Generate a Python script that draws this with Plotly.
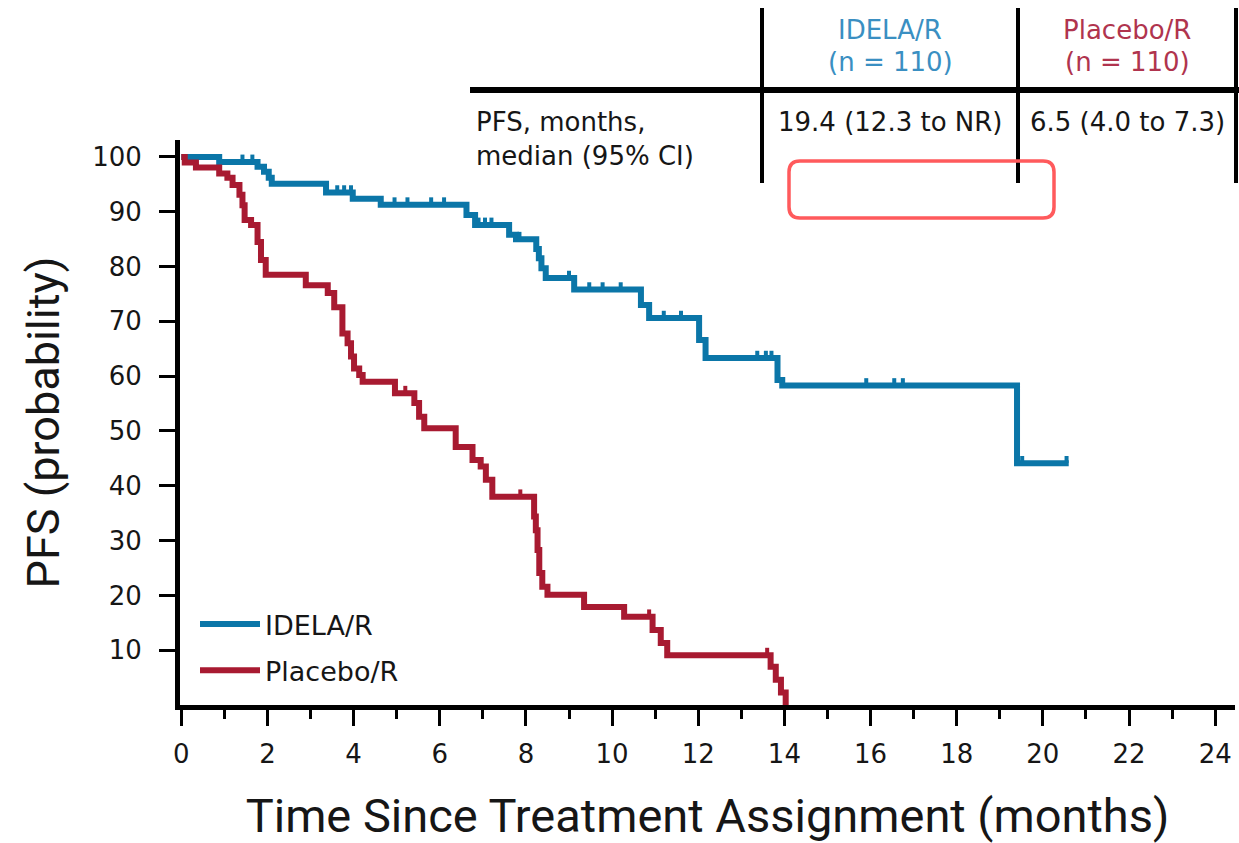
import plotly.graph_objects as go

# Kaplan-Meier step points (months, PFS %)
idela_t = [0, 0.88, 1.77, 1.92, 2.03, 2.10, 3.36, 3.98, 4.63, 6.62, 6.82, 7.61,
           7.77, 8.24, 8.30, 8.36, 8.46, 9.12, 10.67, 10.86, 12.02, 12.17, 13.84,
           13.95, 19.40, 20.60]
idela_s = [100, 99.1, 98.2, 97.3, 96.2, 95.1, 93.5, 92.4, 91.3, 89.4, 87.6, 85.8,
           85.0, 83.2, 81.5, 79.7, 77.9, 75.8, 73.0, 70.6, 66.6, 63.3, 59.3,
           58.3, 44.1, 44.1]
idela_cens = [1.42, 1.65, 3.62, 3.78, 3.94, 4.95, 5.25, 5.80, 6.10, 6.90, 7.05,
              7.20, 7.85, 9.00, 9.47, 9.78, 10.20, 11.20, 11.60, 13.37, 13.57,
              13.70, 15.90, 16.55, 16.75, 19.52, 20.55]

placebo_t = [0, 0.08, 0.34, 0.88, 1.07, 1.19, 1.35, 1.42, 1.47, 1.62, 1.77, 1.85,
             1.96, 2.89, 3.40, 3.55, 3.74, 3.86, 3.94, 4.01, 4.13, 4.21, 4.96,
             5.41, 5.52, 5.64, 6.37, 6.76, 6.95, 7.07, 7.22, 8.19, 8.23, 8.27,
             8.31, 8.38, 8.50, 9.35, 10.28, 10.94, 11.13, 11.28, 13.68, 13.80,
             13.92, 14.03]
placebo_s = [100, 99.0, 98.1, 97.0, 96.2, 94.9, 93.1, 91.2, 88.5, 87.6, 84.5, 81.2,
             78.5, 76.6, 75.2, 72.6, 67.8, 66.0, 63.6, 61.4, 60.2, 59.0, 56.9,
             55.1, 52.6, 50.5, 47.1, 44.7, 43.5, 41.1, 38.0, 34.4, 31.9, 28.3,
             24.1, 21.6, 20.1, 17.9, 16.1, 13.7, 11.3, 9.1, 7.0, 4.6,
             2.3, 0]
placebo_cens = [5.20, 7.87, 10.86, 13.60]

x_ticks = list(range(0, 25, 2))
y_ticks = list(range(10, 101, 10))

arms = ["IDELA/R", "Placebo/R"]
n_per_arm = [110, 110]
median_ci = ["19.4 (12.3 to NR)", "6.5 (4.0 to 7.3)"]

BLUE = "#0B76A8"
RED = "#A81A31"
HEAD_BLUE = "#3A8FC2"
HEAD_RED = "#B0344E"
TITLE_FONT = "Roboto, Arial, sans-serif"
BODY_FONT = "DejaVu Sans, Verdana, sans-serif"
INK = "#161616"

W, H = 1239, 843
ML, MR, MT, MB = 180, 4, 140, 138
PW, PH = W - ML - MR, H - MT - MB


def px(x):
    return (x - ML) / PW


def py(y):
    return (H - MB - y) / PH


def step_value(ts, ss, t):
    v = ss[0]
    for ti, si in zip(ts, ss):
        if ti <= t:
            v = si
    return v


fig = go.Figure()

for name, ts, ss, cens, col in [
    (arms[0], idela_t, idela_s, idela_cens, BLUE),
    (arms[1], placebo_t, placebo_s, placebo_cens, RED),
]:
    fig.add_trace(go.Scatter(
        x=ts, y=ss, mode="lines", name=name, legendgroup=name,
        line=dict(color=col, width=6, shape="hv"),
        hoverinfo="skip",
    ))
    # censoring ticks sit on top of the curve
    fig.add_trace(go.Scatter(
        x=cens, y=[step_value(ts, ss, c) + 0.7 for c in cens],
        mode="markers", legendgroup=name, showlegend=False,
        marker=dict(symbol="line-ns", size=5, line=dict(color=col, width=4)),
        hoverinfo="skip",
    ))

# table above the plot
shapes = []
for xv in (762, 1018, 1236):
    shapes.append(dict(type="line", xref="paper", yref="paper",
                       x0=px(xv), x1=px(xv), y0=py(8), y1=py(183),
                       line=dict(color="black", width=4)))
shapes.append(dict(type="line", xref="paper", yref="paper",
                   x0=px(470), x1=px(1239), y0=py(90), y1=py(90),
                   line=dict(color="black", width=6)))

# rounded highlight box
bx0, bx1, by0, by1, r = 789, 1054, 161, 218, 11
path = (f"M {px(bx0 + r)},{py(by0)} L {px(bx1 - r)},{py(by0)} "
        f"Q {px(bx1)},{py(by0)} {px(bx1)},{py(by0 + r)} "
        f"L {px(bx1)},{py(by1 - r)} Q {px(bx1)},{py(by1)} {px(bx1 - r)},{py(by1)} "
        f"L {px(bx0 + r)},{py(by1)} Q {px(bx0)},{py(by1)} {px(bx0)},{py(by1 - r)} "
        f"L {px(bx0)},{py(by0 + r)} Q {px(bx0)},{py(by0)} {px(bx0 + r)},{py(by0)} Z")
shapes.append(dict(type="path", xref="paper", yref="paper", path=path,
                   line=dict(color="#FF5A5C", width=3.5)))

ann = []


def text(x, y, s, color=INK, size=26, anchor="center"):
    ann.append(dict(x=px(x), y=py(y), xref="paper", yref="paper", text=s,
                    showarrow=False, xanchor=anchor, yanchor="middle",
                    font=dict(family=BODY_FONT, size=size, color=color)))


col_x = [890, 1127]
for cx, arm, n, med, hc in zip(col_x, arms, n_per_arm, median_ci,
                                [HEAD_BLUE, HEAD_RED]):
    text(cx, 30, arm, hc)
    text(cx, 62, f"(n = {n})", hc)
    text(cx, 122, med)
text(474, 122, "PFS, months,", anchor="left")
text(474, 156, "median (95% CI)", anchor="left")

fig.update_layout(
    width=W, height=H,
    margin=dict(l=ML, r=MR, t=MT, b=MB),
    paper_bgcolor="white", plot_bgcolor="white",
    font=dict(family=BODY_FONT, color=INK),
    shapes=shapes, annotations=ann,
    showlegend=True,
    legend=dict(x=px(195), y=py(600), xanchor="left", yanchor="top",
                font=dict(family=BODY_FONT, size=27, color=INK),
                bgcolor="rgba(0,0,0,0)", tracegroupgap=8, itemwidth=60),
    xaxis=dict(
        range=[-0.03, 24.46], tickvals=x_ticks, ticks="outside",
        ticklen=16, tickwidth=3, tickcolor="black",
        showline=True, linewidth=5, linecolor="black",
        showgrid=False, zeroline=False, ticklabelstandoff=6,
        tickfont=dict(family=BODY_FONT, size=26, color=INK),
        minor=dict(dtick=1, tick0=0, ticks="outside", ticklen=9,
                   tickwidth=3, tickcolor="black", showgrid=False),
        title=dict(text="Time Since Treatment Assignment (months)",
                   font=dict(family=TITLE_FONT, size=47, color=INK),
                   standoff=38),
    ),
    yaxis=dict(
        range=[0, 103.1], tickvals=y_ticks, ticks="outside",
        ticklen=16, tickwidth=3, tickcolor="black",
        showline=True, linewidth=5, linecolor="black",
        showgrid=False, zeroline=False, ticklabelstandoff=12,
        tickfont=dict(family=BODY_FONT, size=26, color=INK),
        title=dict(text="PFS (probability)",
                   font=dict(family=TITLE_FONT, size=45, color=INK),
                   standoff=20),
    ),
)

fig.write_html("out.html")
